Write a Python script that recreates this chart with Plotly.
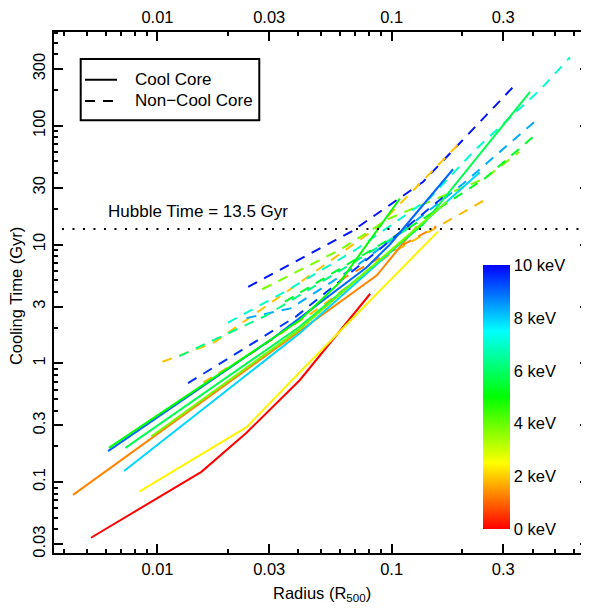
import colorsys
import plotly.graph_objects as go

# ---------------- data ----------------
# Cool-core clusters (solid lines): temperature (keV), radius (R500), cooling time (Gyr)
cc_temp = [0.0, 1.3, 2.4, 7.9, 9.0, 5.0, 5.8, 3.9]
cc_radius = [
    [0.0052, 0.0154, 0.024, 0.0405, 0.081],
    [0.00436, 0.0405, 0.0865, 0.128],
    [0.0084, 0.024, 0.0405, 0.0862, 0.158],
    [0.0072, 0.0405, 0.1, 0.238],
    [0.00615, 0.0312, 0.0781, 0.0983, 0.183],
    [0.0062, 0.0405, 0.06, 0.1085],
    [0.0073, 0.04, 0.136, 0.39],
    [0.0094, 0.04, 0.172],
]
cc_tcool = [
    [0.034, 0.122, 0.26, 0.72, 3.85],
    [0.078, 1.87, 5.5, 14.2],
    [0.0836, 0.29, 0.84, 3.8, 12.9],
    [0.124, 1.79, 8.8, 40.6],
    [0.182, 1.63, 6.4, 10.0, 43.0],
    [0.194, 2.3, 4.8, 24.4],
    [0.194, 2.0, 14.7, 193.0],
    [0.242, 1.9, 22.9],
]

# Non-cool-core clusters (dashed lines)
ncc_temp = [9.8, 1.9, 3.8, 8.3, 7.0, 6.3, 5.4, 1.8, 9.5, 1.3]
ncc_radius = [
    [0.0244, 0.0405, 0.0675, 0.136, 0.331],
    [0.0105, 0.0173, 0.04, 0.0862, 0.128, 0.196],
    [0.028, 0.06, 0.098, 0.25, 0.35],
    [0.024, 0.037, 0.07, 0.1, 0.2, 0.417],
    [0.02, 0.035, 0.07, 0.145, 0.228, 0.43, 0.578],
    [0.0124, 0.0292, 0.06, 0.12],
    [0.035, 0.07, 0.13, 0.25, 0.42],
    [0.0157, 0.025, 0.05, 0.1, 0.25],
    [0.0135, 0.039, 0.085, 0.17],
    [0.06, 0.1, 0.155],
]
ncc_tcool = [
    [4.4, 7.5, 12.9, 33.6, 213.0],
    [1.03, 1.48, 4.7, 13.8, 30.6, 72.0],
    [4.2, 9.0, 16.6, 36.0, 60.0],
    [2.4, 2.9, 6.5, 11.0, 32.0, 112.0],
    [2.2, 4.0, 9.0, 24.4, 63.0, 200.0, 377.0],
    [1.15, 2.53, 6.0, 14.0],
    [3.3, 7.5, 15.5, 36.0, 87.0],
    [0.69, 1.2, 3.0, 8.5, 23.7],
    [0.68, 2.47, 8.5, 26.0],
    [5.0, 8.8, 14.2],
]

hubble_time = 13.5
hubble_label = "Hubble Time = 13.5 Gyr"
x_ticks = [0.01, 0.03, 0.1, 0.3]
x_tick_text = ["0.01", "0.03", "0.1", "0.3"]
y_ticks = [0.03, 0.1, 0.3, 1, 3, 10, 30, 100, 300]
y_tick_text = ["0.03", "0.1", "0.3", "1", "3", "10", "30", "100", "300"]
cbar_ticks = [0, 2, 4, 6, 8, 10]
cbar_text = ["0 keV", "2 keV", "4 keV", "6 keV", "8 keV", "10 keV"]
legend_labels = ["Cool Core", "Non\u2212Cool Core"]
t_min, t_max = 0.0, 10.0

# ---------------- styling ----------------
FONT = "Liberation Sans, Arial, Helvetica, sans-serif"
X_RANGE = [-2.442, -0.157]
Y_RANGE = [-1.597, 2.789]
DASH = "10px,8px"


def temp_color(t):
    h = (t - t_min) / (t_max - t_min) * (240.0 / 360.0)
    r, g, b = colorsys.hsv_to_rgb(h, 1.0, 1.0)
    return "rgb(%d,%d,%d)" % (round(r * 255), round(g * 255), round(b * 255))


colorscale = [[i / 20.0, temp_color(t_min + (t_max - t_min) * i / 20.0)] for i in range(21)]

minor_vals = []
for e in range(-4, 4):
    for d in (2, 4, 5, 6, 7, 8, 9):
        minor_vals.append(d * 10.0 ** e)

fig = go.Figure()

for t, r, tc in zip(ncc_temp, ncc_radius, ncc_tcool):
    fig.add_trace(go.Scatter(x=r, y=tc, mode="lines", showlegend=False, hoverinfo="skip",
                             line=dict(color=temp_color(t), width=2, dash=DASH)))
for t, r, tc in zip(cc_temp, cc_radius, cc_tcool):
    fig.add_trace(go.Scatter(x=r, y=tc, mode="lines", showlegend=False, hoverinfo="skip",
                             line=dict(color=temp_color(t), width=2)))

# Hubble time line (dotted, across the panel)
fig.add_trace(go.Scatter(x=[10 ** (X_RANGE[0] + 0.034), 10 ** X_RANGE[1]],
                         y=[hubble_time, hubble_time],
                         mode="lines", showlegend=False, hoverinfo="skip",
                         line=dict(color="black", width=2, dash="2px,8.5px")))

# colour bar
fig.add_trace(go.Scatter(
    x=[0.01], y=[1], mode="markers", showlegend=False, hoverinfo="skip",
    marker=dict(size=0.1, opacity=0, color=[0], cmin=t_min, cmax=t_max, colorscale=colorscale,
                showscale=True,
                colorbar=dict(x=0.802, xanchor="left", y=0.299, yanchor="middle",
                              len=264, lenmode="pixels", thickness=27, thicknessmode="pixels",
                              outlinewidth=0, xpad=0, ypad=0, ticks="",
                              tickvals=cbar_ticks, ticktext=cbar_text,
                              tickfont=dict(size=16.5, color="black", family=FONT)))))

# dummy trace for the mirrored axes (top and right)
fig.add_trace(go.Scatter(x=[0.01], y=[1], xaxis="x2", yaxis="y2", mode="markers",
                         marker=dict(opacity=0, size=0.1), showlegend=False, hoverinfo="skip"))

common = dict(type="log", ticks="inside", ticklen=9, tickwidth=1.5, tickcolor="black",
              showgrid=False, zeroline=False,
              tickfont=dict(size=16.5, color="black", family=FONT),
              minor=dict(tickvals=minor_vals, ticks="inside", ticklen=4, tickwidth=1.5,
                         tickcolor="black", showgrid=False))

# manual legend (paper coordinates)
lg_x0, lg_x1, lg_y0, lg_y1 = 0.0499, 0.3837, 0.8304, 0.9482
row_y = [0.9085, 0.8677]
shapes = [
    dict(type="rect", xref="paper", yref="paper", x0=lg_x0, x1=lg_x1, y0=lg_y0, y1=lg_y1,
         line=dict(color="black", width=2), fillcolor="white", layer="above"),
    dict(type="line", xref="paper", yref="paper", x0=0.0579, x1=0.1178, y0=row_y[0], y1=row_y[0],
         line=dict(color="black", width=2), layer="above"),
    dict(type="line", xref="paper", yref="paper", x0=0.0579, x1=0.1178, y0=row_y[1], y1=row_y[1],
         line=dict(color="black", width=2, dash=DASH), layer="above"),
]

annotations = [
    dict(text="Cooling Time (Gyr)", xref="paper", yref="paper", x=-0.072, y=0.494,
         textangle=-90, showarrow=False, xanchor="center", yanchor="middle",
         font=dict(size=16.5, color="black", family=FONT)),
    dict(text="Radius (R<sub>500</sub>)", xref="paper", yref="paper", x=0.5004, y=-0.0788,
         showarrow=False, xanchor="center", yanchor="middle",
         font=dict(size=16.5, color="black", family=FONT)),
    dict(text=hubble_label, xref="x", yref="y", x=-1.8265, y=1.2765,
         showarrow=False, xanchor="center", yanchor="middle",
         font=dict(size=17, color="black", family=FONT)),
]
for lab, yy in zip(legend_labels, row_y):
    annotations.append(dict(text=lab, xref="paper", yref="paper", x=0.1477, y=yy,
                            showarrow=False, xanchor="left", yanchor="middle",
                            font=dict(size=17, color="black", family=FONT)))

# The page adds an 8px body margin, so the figure is 8px smaller on each axis.
fig.update_layout(
    width=581, height=601,
    margin=dict(l=46, r=0, t=16, b=56, pad=0),
    paper_bgcolor="white", plot_bgcolor="white",
    font=dict(family=FONT, size=16.5, color="black"),
    showlegend=False,
    xaxis=dict(range=X_RANGE, tickvals=x_ticks, ticktext=x_tick_text,
               showline=True, linewidth=2, linecolor="black", **common),
    xaxis2=dict(range=X_RANGE, tickvals=x_ticks, ticktext=x_tick_text, overlaying="x",
                side="top", anchor="y2",
                showline=True, linewidth=2, linecolor="black", **common),
    yaxis=dict(range=Y_RANGE, tickvals=y_ticks, ticktext=y_tick_text, tickangle=-90,
               showline=True, linewidth=2, linecolor="black", **common),
    yaxis2=dict(range=Y_RANGE, tickvals=y_ticks, overlaying="y", side="right", anchor="x2",
                showticklabels=False, showline=False, **common),
    shapes=shapes,
    annotations=annotations,
)

fig.write_html("out.html")
